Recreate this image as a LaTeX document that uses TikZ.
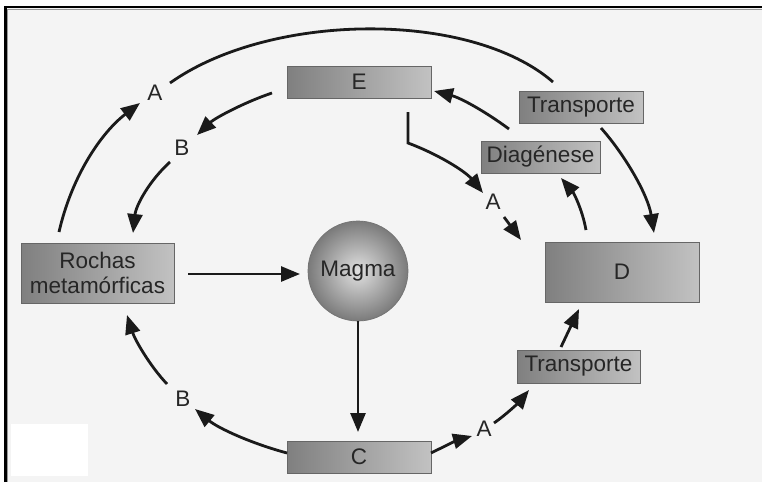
\documentclass[tikz,border=0pt]{standalone}
\usepackage{fontspec}
\setmainfont{Liberation Sans}
\usetikzlibrary{arrows.meta,calc}
\definecolor{bg}{HTML}{F4F4F4}
\definecolor{ink}{HTML}{1A1A1A}
\begin{document}
\begin{tikzpicture}[x=1pt,y=-1pt,
  box/.style={draw=black!60, line width=0.8pt, left color=black!50, right color=black!24,
    minimum height=32pt, inner sep=0pt, font=\fontsize{22.5}{25}\selectfont, text=black!85},
  lbl/.style={font=\fontsize{22.5}{25}\selectfont, text=black!85, inner sep=1pt},
  arr/.style={draw=ink, line width=2.8pt, -{Triangle[length=19pt,width=15pt]}},
  ln/.style={draw=ink, line width=2.8pt}]
\useasboundingbox (0,0) rectangle (762,482);
\fill[white] (0,0) rectangle (762,482);
\fill[bg] (5,7) rectangle (762,482);
\draw[black!40, line width=1.4pt] (7.5,482) -- (7.5,9.6) -- (762,9.6);
\draw[black, line width=2.5pt] (5.3,482) -- (5.3,7) -- (762,7);
\fill[white] (11,424) rectangle (88,476);

% boxes
\node[box, minimum width=144pt] (E) at (359,82) {E};
\node[box, minimum width=124pt] (T1) at (581,107) {Transporte};
\node[box, minimum width=119pt] (Dg) at (540.5,157) {Diagénese};
\node[box, minimum width=154pt, minimum height=60pt] (D) at (622,272) {D};
\node[box, minimum width=123pt, minimum height=33pt] (T2) at (578.5,366.5) {Transporte};
\node[box, minimum width=144pt] (C) at (359,457) {C};
\node[box, minimum width=153pt, minimum height=60pt, align=center] (R) at (97.5,273) {Rochas\\metamórficas};
\node[circle, minimum size=100pt, inner sep=0pt, draw=black!55, line width=0.7pt,
  inner color=black!12, outer color=black!52, font=\fontsize{22.5}{25}\selectfont, text=black!85] (M) at (358,271) {Magma};

% labels
\node[lbl] (A1) at (155,93) {A};
\node[lbl] (B1) at (182,148) {B};
\node[lbl] (A2) at (493,202) {A};
\node[lbl] (B2) at (183,399) {B};
\node[lbl] (A3) at (484,429) {A};

% connector end points
\coordinate (r1) at (59,232);
\coordinate (a1in) at (140,103);
\coordinate (a1out) at (170,83);
\coordinate (t1in) at (553,82);
\coordinate (e1) at (272,93);
\coordinate (b1in) at (197,135);
\coordinate (b1out) at (170,162);
\coordinate (r2) at (133,233);
\coordinate (r3) at (188,274);
\coordinate (m1) at (300,274);
\coordinate (m2) at (358,321);
\coordinate (c1) at (358,432);
\coordinate (c2) at (287,453);
\coordinate (b2in) at (195,409);
\coordinate (b2out) at (167,384);
\coordinate (r4) at (127,315);
\coordinate (c3) at (431,453);
\coordinate (a3in) at (472,436);
\coordinate (a3out) at (494,423);
\coordinate (t2in) at (529,390);
\coordinate (t2out) at (561,347);
\coordinate (d1) at (579,309);
\coordinate (d2) at (586,230);
\coordinate (dg1) at (561,178);
\coordinate (dg2) at (509,129);
\coordinate (e2) at (434,91);
\coordinate (e3) at (408,112);
\coordinate (k1) at (408,143);
\coordinate (a2in) at (483,193);
\coordinate (a2out) at (504,217);
\coordinate (d3) at (521,240);
\coordinate (t1out) at (601,128);
\coordinate (d4) at (654,233);

% connectors
\draw[arr] (r1) .. controls (72,175) and (102,132) .. (a1in);
\draw[ln] (a1out) .. controls (270,12) and (470,10) .. (t1in);
\draw[arr] (e1) .. controls (245,102) and (215,118) .. (b1in);
\draw[arr] (b1out) .. controls (150,180) and (136,205) .. (r2);
\draw[arr] (r3) -- (m1);
\draw[arr] (m2) -- (c1);
\draw[arr] (c2) .. controls (250,443) and (218,428) .. (b2in);
\draw[arr] (b2out) .. controls (150,366) and (135,340) .. (r4);
\draw[arr] (c3) .. controls (445,446) and (458,440) .. (a3in);
\draw[arr] (a3out) .. controls (507,414) and (519,402) .. (t2in);
\draw[arr] (t2out) -- (d1);
\draw[arr] (d2) .. controls (582,208) and (573,192) .. (dg1);
\draw[arr] (dg2) .. controls (486,112) and (461,98) .. (e2);
\draw[arr] (e3) -- (k1) .. controls (440,155) and (466,172) .. (a2in);
\draw[arr] (a2out) -- (d3);
\draw[arr] (t1out) .. controls (625,155) and (648,195) .. (d4);
\end{tikzpicture}
\end{document}
